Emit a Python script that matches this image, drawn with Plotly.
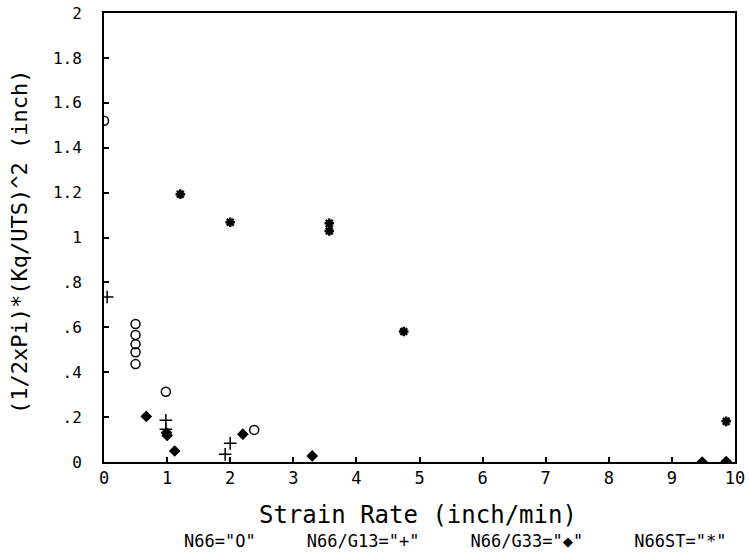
import plotly.graph_objects as go

# ---- data ----
n66_x = [0.0, 0.5, 0.5, 0.5, 0.5, 0.5, 0.98, 2.38]
n66_y = [1.52, 0.615, 0.566, 0.525, 0.489, 0.436, 0.313, 0.143]

g13_x = [0.05, 0.98, 0.98, 1.92, 2.0]
g13_y = [0.735, 0.186, 0.146, 0.034, 0.083]

g33_x = [0.67, 0.99, 1.0, 1.12, 2.2, 3.3, 9.48, 9.86]
g33_y = [0.203, 0.13, 0.118, 0.049, 0.124, 0.027, 0.0, 0.002]

n66st_x = [1.21, 2.0, 3.57, 3.57, 4.75, 9.86]
n66st_y = [1.193, 1.068, 1.063, 1.029, 0.581, 0.181]

x_ticks = [0, 1, 2, 3, 4, 5, 6, 7, 8, 9, 10]
x_ticktext = ["0", "1", "2", "3", "4", "5", "6", "7", "8", "9", "10"]
y_ticks = [0, 0.2, 0.4, 0.6, 0.8, 1.0, 1.2, 1.4, 1.6, 1.8, 2.0]
y_ticktext = ["0", ".2", ".4", ".6", ".8", "1", "1.2", "1.4", "1.6", "1.8", "2"]

x_title = "Strain Rate (inch/min)"
y_title = "(1/2xPi)*(Kq/UTS)^2 (inch)"
legend_text = 'N66="O"     N66/G13="+"     N66/G33="◆"     N66ST="*"'

FONT = "DejaVu Sans Mono"

fig = go.Figure()
fig.add_trace(go.Scatter(x=n66_x, y=n66_y, mode="markers", name="N66",
                         marker=dict(symbol="circle-open", size=9, color="black",
                                     line=dict(width=1.5, color="black"))))
fig.add_trace(go.Scatter(x=g13_x, y=g13_y, mode="markers", name="N66/G13",
                         marker=dict(symbol="cross-thin-open", size=9, color="black",
                                     line=dict(width=1.5, color="black"))))
fig.add_trace(go.Scatter(x=g33_x, y=g33_y, mode="markers", name="N66/G33",
                         marker=dict(symbol="diamond", size=9, color="black")))
fig.add_trace(go.Scatter(x=n66st_x, y=n66st_y, mode="markers", name="N66ST",
                         marker=dict(symbol="asterisk-open", size=8, color="black",
                                     line=dict(width=2.5, color="black"))))

fig.update_layout(
    width=749, height=554,
    margin=dict(l=104, r=14, t=13, b=92, autoexpand=False),
    paper_bgcolor="white", plot_bgcolor="white",
    showlegend=False,
    font=dict(family=FONT, color="black", size=15),
)
fig.update_xaxes(
    range=[0, 10], tickvals=x_ticks, ticktext=x_ticktext,
    showgrid=False, zeroline=False, automargin=False,
    showline=True, linewidth=2, linecolor="black", mirror=True,
    ticks="inside", ticklen=5, tickwidth=1.5, tickcolor="black",
    tickfont=dict(family=FONT, size=17), ticklabeloverflow="allow",
)
fig.update_yaxes(
    range=[0, 2], tickvals=y_ticks, ticktext=y_ticktext,
    showgrid=False, zeroline=False, automargin=False,
    showline=True, linewidth=2, linecolor="black", mirror=True,
    ticks="inside", ticklen=5, tickwidth=1.5, tickcolor="black",
    tickfont=dict(family=FONT, size=16), ticklabelstandoff=17,
    ticklabeloverflow="allow",
)

fig.add_annotation(text=x_title, xref="paper", yref="paper", x=0.497, y=0,
                   yshift=-53, showarrow=False, xanchor="center", yanchor="middle",
                   font=dict(family=FONT, size=24))
fig.add_annotation(text=legend_text, xref="paper", yref="paper", x=0.556, y=0,
                   yshift=-79, showarrow=False, xanchor="center", yanchor="middle",
                   font=dict(family=FONT, size=17))
fig.add_annotation(text=y_title, xref="paper", yref="paper", x=0, y=0.49,
                   xshift=-84, showarrow=False, xanchor="center", yanchor="middle",
                   textangle=-90, font=dict(family=FONT, size=22))

fig.write_html(
    "out.html",
    config={"displayModeBar": False},
    post_script="document.body.style.margin='0';document.body.style.overflow='hidden';",
)
